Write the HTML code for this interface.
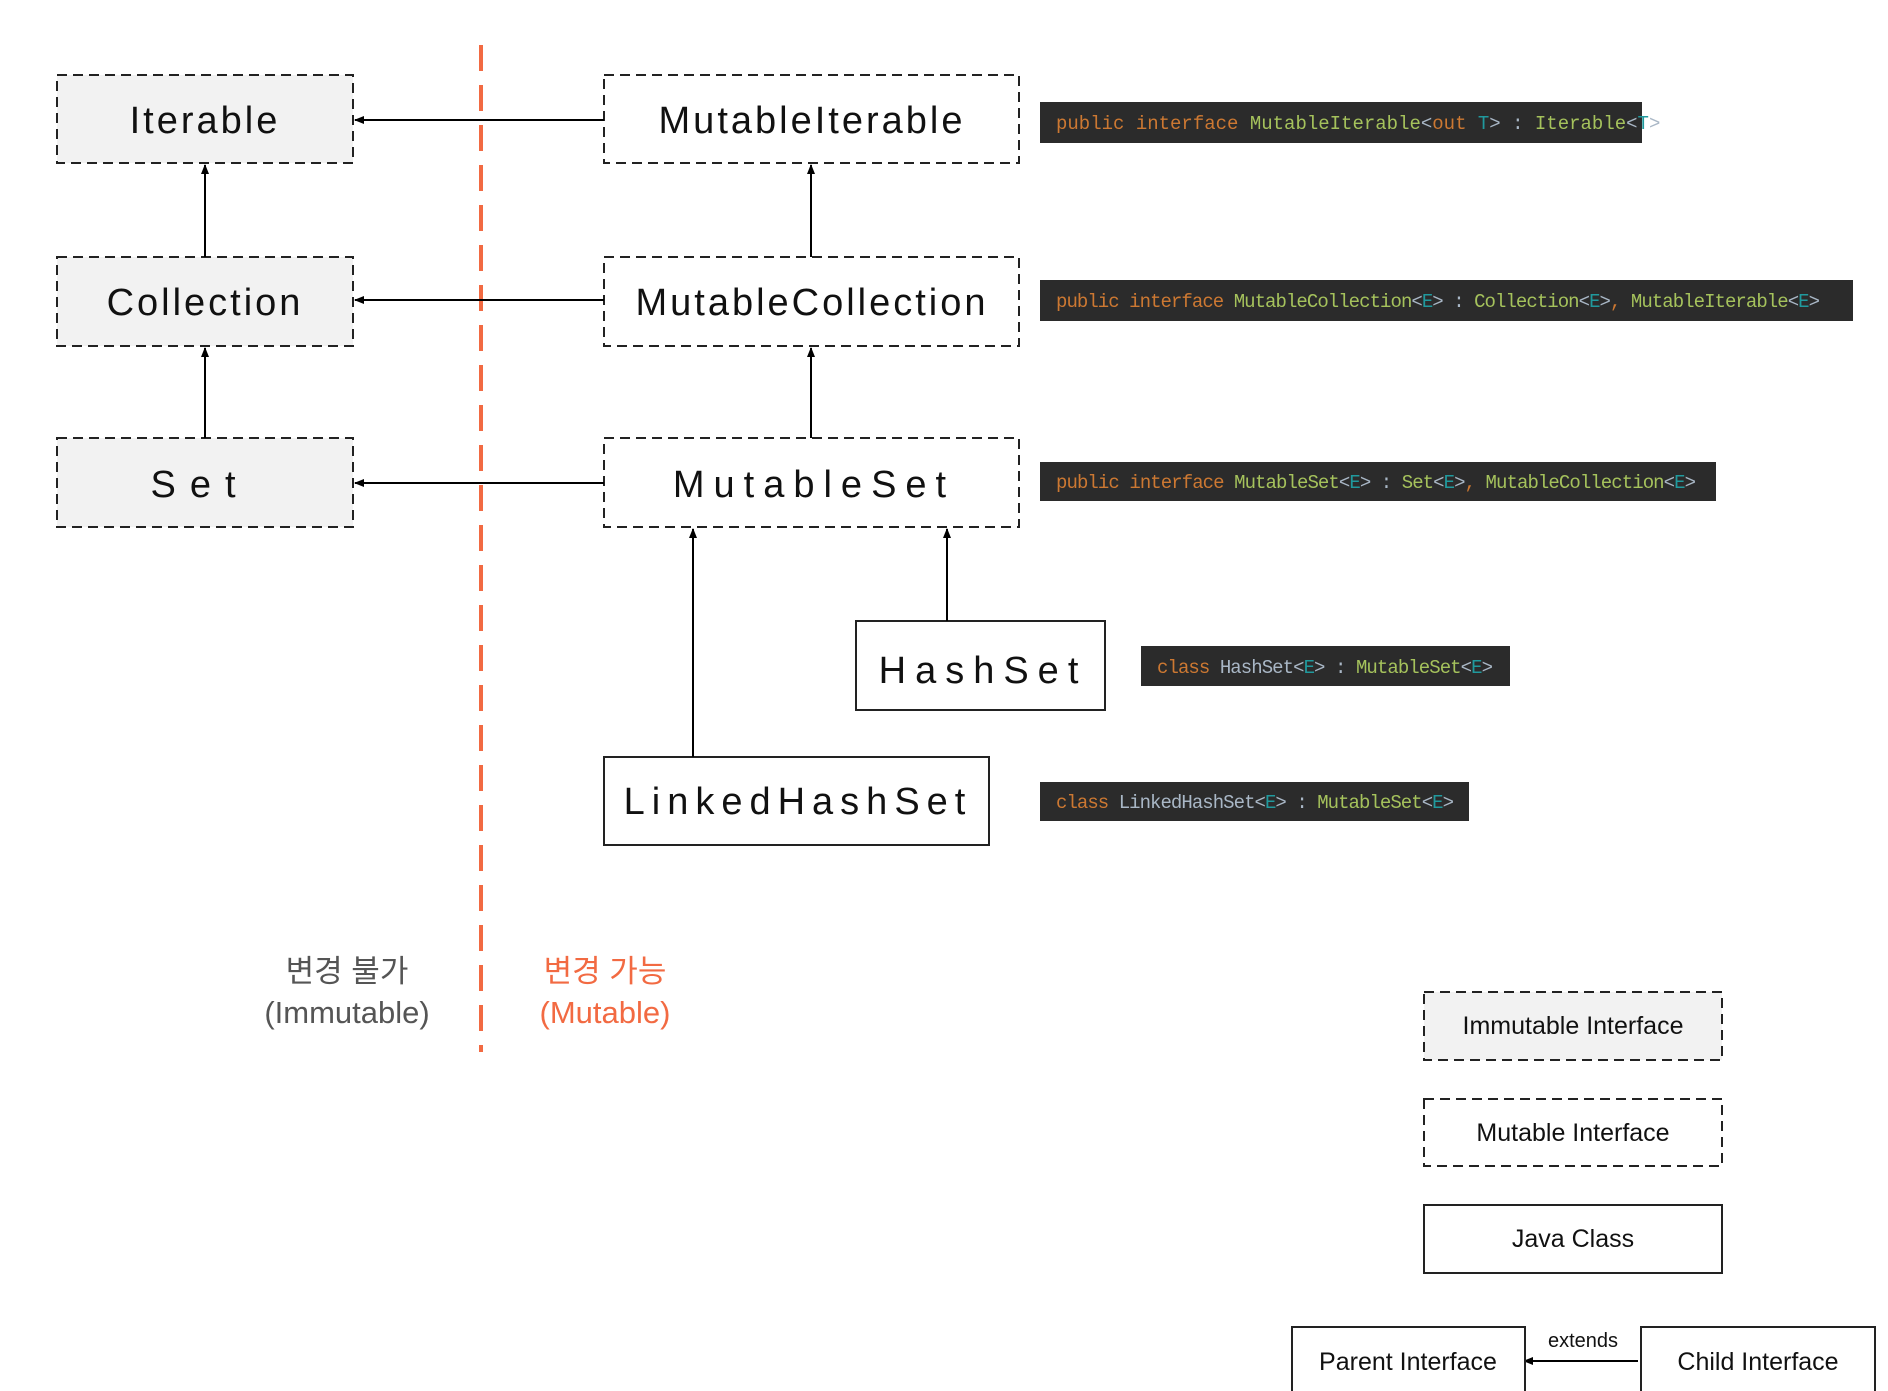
<!DOCTYPE html>
<html><head><meta charset="utf-8"><style>
html,body{margin:0;padding:0;background:#fff;}
svg{display:block;}
.lbl{font-family:"Liberation Sans","Noto Sans CJK KR",sans-serif;fill:#111;}
.code{font-family:"Liberation Mono",monospace;font-size:19px;}
</style></head><body>
<svg width="1888" height="1391" viewBox="0 0 1888 1391" xmlns="http://www.w3.org/2000/svg">
<defs>
<marker id="ar" markerWidth="10" markerHeight="10" refX="9" refY="5" orient="auto" markerUnits="userSpaceOnUse">
<path d="M0,1 L10,5 L0,9 z" fill="#000"/></marker>
</defs>
<!-- red divider -->
<line x1="481" y1="45" x2="481" y2="1052" stroke="#f26a42" stroke-width="4" stroke-dasharray="26,14"/>

<!-- immutable boxes -->
<g stroke="#222" stroke-width="2" stroke-dasharray="10,6" fill="#f2f2f2">
<rect x="57" y="75" width="296" height="88"/>
<rect x="57" y="257" width="296" height="89"/>
<rect x="57" y="438" width="296" height="89"/>
</g>
<g stroke="#222" stroke-width="2" stroke-dasharray="10,6" fill="#fff">
<rect x="604" y="75" width="415" height="88"/>
<rect x="604" y="257" width="415" height="89"/>
<rect x="604" y="438" width="415" height="89"/>
</g>
<g stroke="#222" stroke-width="2" fill="#fff">
<rect x="856" y="621" width="249" height="89"/>
<rect x="604" y="757" width="385" height="88"/>
</g>

<g class="lbl" font-size="38" text-anchor="middle">
<text x="205" y="133" letter-spacing="3">Iterable</text>
<text x="205" y="315" letter-spacing="3">Collection</text>
<text x="200" y="497" letter-spacing="14">Set</text>
<text x="812" y="133" letter-spacing="3">MutableIterable</text>
<text x="812" y="315" letter-spacing="3">MutableCollection</text>
<text x="814" y="497" letter-spacing="9">MutableSet</text>
<text x="983" y="683" letter-spacing="9">HashSet</text>
<text x="798" y="814" letter-spacing="7">LinkedHashSet</text>
</g>

<!-- arrows -->
<g stroke="#000" stroke-width="2" fill="none" marker-end="url(#ar)">
<line x1="604" y1="120" x2="355" y2="120"/>
<line x1="604" y1="300" x2="355" y2="300"/>
<line x1="604" y1="483" x2="355" y2="483"/>
<line x1="205" y1="257" x2="205" y2="165"/>
<line x1="205" y1="438" x2="205" y2="348"/>
<line x1="811" y1="257" x2="811" y2="165"/>
<line x1="811" y1="438" x2="811" y2="348"/>
<line x1="693" y1="757" x2="693" y2="529"/>
<line x1="947" y1="621" x2="947" y2="529"/>
<line x1="1638" y1="1361" x2="1524" y2="1361"/>
</g>

<!-- code boxes -->
<rect x="1040" y="102" width="602" height="41" fill="#2b2b2b"/>
<text class="code" x="1056" y="129"><tspan fill="#cc7832">public interface </tspan><tspan fill="#a5c25c">MutableIterable</tspan><tspan fill="#a9b7c6">&lt;</tspan><tspan fill="#cc7832">out </tspan><tspan fill="#20999d">T</tspan><tspan fill="#a9b7c6">&gt; : </tspan><tspan fill="#a5c25c">Iterable</tspan><tspan fill="#a9b7c6">&lt;</tspan><tspan fill="#20999d">T</tspan><tspan fill="#a9b7c6">&gt;</tspan></text>

<rect x="1040" y="280" width="813" height="41" fill="#2b2b2b"/>
<text class="code" x="1056" y="307" textLength="764"><tspan fill="#cc7832">public interface </tspan><tspan fill="#a5c25c">MutableCollection</tspan><tspan fill="#a9b7c6">&lt;</tspan><tspan fill="#20999d">E</tspan><tspan fill="#a9b7c6">&gt; : </tspan><tspan fill="#a5c25c">Collection</tspan><tspan fill="#a9b7c6">&lt;</tspan><tspan fill="#20999d">E</tspan><tspan fill="#a9b7c6">&gt;</tspan><tspan fill="#cc7832">, </tspan><tspan fill="#a5c25c">MutableIterable</tspan><tspan fill="#a9b7c6">&lt;</tspan><tspan fill="#20999d">E</tspan><tspan fill="#a9b7c6">&gt;</tspan></text>

<rect x="1040" y="462" width="676" height="39" fill="#2b2b2b"/>
<text class="code" x="1056" y="488" textLength="640"><tspan fill="#cc7832">public interface </tspan><tspan fill="#a5c25c">MutableSet</tspan><tspan fill="#a9b7c6">&lt;</tspan><tspan fill="#20999d">E</tspan><tspan fill="#a9b7c6">&gt; : </tspan><tspan fill="#a5c25c">Set</tspan><tspan fill="#a9b7c6">&lt;</tspan><tspan fill="#20999d">E</tspan><tspan fill="#a9b7c6">&gt;</tspan><tspan fill="#cc7832">, </tspan><tspan fill="#a5c25c">MutableCollection</tspan><tspan fill="#a9b7c6">&lt;</tspan><tspan fill="#20999d">E</tspan><tspan fill="#a9b7c6">&gt;</tspan></text>

<rect x="1141" y="646" width="369" height="40" fill="#2b2b2b"/>
<text class="code" x="1157" y="673" textLength="336"><tspan fill="#cc7832">class </tspan><tspan fill="#a9b7c6">HashSet&lt;</tspan><tspan fill="#20999d">E</tspan><tspan fill="#a9b7c6">&gt; : </tspan><tspan fill="#a5c25c">MutableSet</tspan><tspan fill="#a9b7c6">&lt;</tspan><tspan fill="#20999d">E</tspan><tspan fill="#a9b7c6">&gt;</tspan></text>

<rect x="1040" y="782" width="429" height="39" fill="#2b2b2b"/>
<text class="code" x="1056" y="808" textLength="398"><tspan fill="#cc7832">class </tspan><tspan fill="#a9b7c6">LinkedHashSet&lt;</tspan><tspan fill="#20999d">E</tspan><tspan fill="#a9b7c6">&gt; : </tspan><tspan fill="#a5c25c">MutableSet</tspan><tspan fill="#a9b7c6">&lt;</tspan><tspan fill="#20999d">E</tspan><tspan fill="#a9b7c6">&gt;</tspan></text>

<!-- side labels -->
<g class="lbl" font-size="31" text-anchor="middle">
<text x="347" y="982" fill="#555" style="fill:#555">변경 불가</text>
<text x="347" y="1023" style="fill:#555">(Immutable)</text>
<text x="605" y="982" style="fill:#f26a42">변경 가능</text>
<text x="605" y="1023" style="fill:#f26a42">(Mutable)</text>
</g>

<!-- legend -->
<rect x="1424" y="992" width="298" height="68" fill="#f2f2f2" stroke="#222" stroke-width="2" stroke-dasharray="10,6"/>
<rect x="1424" y="1099" width="298" height="67" fill="#fff" stroke="#222" stroke-width="2" stroke-dasharray="10,6"/>
<rect x="1424" y="1205" width="298" height="68" fill="#fff" stroke="#222" stroke-width="2"/>
<rect x="1292" y="1327" width="233" height="68" fill="#fff" stroke="#222" stroke-width="2"/>
<rect x="1641" y="1327" width="234" height="68" fill="#fff" stroke="#222" stroke-width="2"/>
<g class="lbl" font-size="25" text-anchor="middle">
<text x="1573" y="1034">Immutable Interface</text>
<text x="1573" y="1141">Mutable Interface</text>
<text x="1573" y="1247">Java Class</text>
<text x="1408" y="1370">Parent Interface</text>
<text x="1758" y="1370">Child Interface</text>
<text x="1583" y="1347" font-size="20">extends</text>
</g>
</svg>
</body></html>
